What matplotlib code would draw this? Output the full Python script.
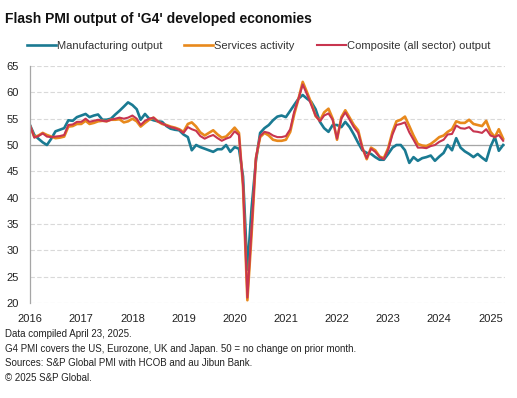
import numpy as np
import pandas as pd
import matplotlib
matplotlib.use('Agg')
import matplotlib.pyplot as plt
import matplotlib.dates as mdates

plt.rcParams['font.family'] = ['Liberation Sans', 'DejaVu Sans']

# monthly readings, Jan 2016 .. Apr 2025
months = pd.date_range('2016-01-01', periods=112, freq='MS')

manufacturing = [
    53.8, 51.9, 51.2, 50.5, 50.0, 51.2, 52.6, 52.9, 53.2, 54.7, 54.6, 55.3,
    55.6, 55.9, 55.3, 55.6, 55.8, 54.8, 54.8, 55.0, 55.8, 56.5, 57.3, 58.1,
    57.6, 56.8, 54.8, 55.9, 55.0, 54.7, 54.5, 54.4, 53.6, 53.1, 52.9, 52.8,
    52.0, 51.5, 49.0, 50.0, 49.6, 49.3, 49.0, 48.7, 49.2, 49.2, 50.0, 48.7,
    49.6, 49.3, 44.0, 26.3, 38.0, 47.0, 52.3, 53.2, 53.8, 54.7, 55.4, 55.6,
    55.3, 56.5, 57.6, 58.8, 59.5, 58.8, 58.2, 56.8, 54.4, 53.2, 52.5, 53.8,
    53.8, 53.4, 54.4, 53.4, 52.0, 50.4, 49.0, 48.5, 48.3, 47.7, 47.2, 47.2,
    48.3, 49.5, 50.0, 50.0, 49.0, 46.6, 47.7, 47.0, 47.5, 47.7, 48.0, 47.0,
    47.8, 48.5, 50.0, 49.0, 51.3, 49.5, 48.8, 48.3, 47.7, 48.3, 47.6, 47.0,
    49.7, 51.5, 48.9, 50.0,
]

services = [
    53.6, 51.5, 51.8, 52.3, 51.9, 51.6, 51.3, 51.4, 51.6, 53.5, 53.6, 54.0,
    54.0, 54.6, 54.0, 54.2, 54.5, 54.6, 54.5, 54.8, 54.8, 54.9, 54.3, 54.5,
    55.0, 54.5, 53.5, 54.2, 54.8, 55.2, 54.5, 54.0, 53.8, 53.5, 53.3, 53.0,
    52.5, 54.0, 54.3, 53.5, 52.4, 51.8, 52.3, 52.8, 52.0, 51.4, 51.6, 52.4,
    53.3, 52.3, 42.0, 20.5, 33.0, 47.5, 51.5, 52.3, 51.8, 51.0, 50.8, 50.8,
    51.0, 52.5, 55.8, 58.8, 62.0, 60.0, 58.0, 55.5, 54.6, 56.2, 56.9, 55.0,
    51.0, 55.3, 56.6, 55.2, 53.8, 52.8, 49.5, 47.3, 49.5, 49.0, 47.8, 47.5,
    49.4, 52.5, 54.5, 54.8, 55.4, 53.6, 51.8, 50.2, 49.9, 49.8, 50.2, 50.8,
    51.5, 51.8, 52.5, 53.0, 54.5, 54.2, 54.2, 54.8, 54.0, 53.8, 53.6, 54.6,
    52.5, 51.5, 53.0, 51.2,
]

composite = [
    53.8, 51.4, 51.7, 52.2, 51.6, 51.5, 51.6, 51.7, 51.9, 53.8, 53.9, 54.4,
    54.4, 55.0, 54.4, 54.6, 54.8, 54.6, 54.5, 54.8, 55.0, 55.2, 55.0, 55.2,
    55.6, 55.0, 53.8, 54.6, 55.0, 55.2, 54.5, 54.1, 53.7, 53.4, 53.2, 52.9,
    52.3, 53.4, 53.0, 52.7, 51.7, 51.2, 51.6, 51.9, 51.3, 50.8, 51.2, 51.5,
    52.6, 51.9, 42.5, 21.0, 34.0, 47.6, 51.7, 52.5, 52.3, 51.8, 51.5, 51.5,
    51.7, 53.0, 56.3, 58.8, 61.5, 59.6, 57.6, 55.6, 54.5, 55.6, 56.0, 54.8,
    51.2, 55.0, 56.2, 54.8, 53.4, 52.3, 49.4, 47.5, 49.3, 48.7, 47.7, 47.3,
    49.1, 52.0, 53.8, 54.0, 54.3, 52.4, 51.0, 49.5, 49.5, 49.4, 49.8, 50.0,
    50.6, 51.0, 52.0, 52.1, 53.7, 53.2, 53.1, 53.4, 52.6, 52.5, 52.3, 53.0,
    51.8, 51.5, 51.9, 50.8,
]

yticks = [20, 25, 30, 35, 40, 45, 50, 55, 60, 65]

fig = plt.figure(figsize=(5.17, 3.98), dpi=100)
ax = fig.add_axes([0.058, 0.239, 0.919, 0.595])

ax.plot(months, manufacturing, color='#1a7a92', lw=1.9, label='Manufacturing output')
ax.plot(months, services, color='#e8891c', lw=1.9, label='Services activity')
ax.plot(months, composite, color='#c8354f', lw=1.5, label='Composite (all sector) output')

ax.set_ylim(20, 65)
ax.set_yticks(yticks)
ax.set_xlim(months[0], pd.Timestamp('2025-04-15'))
ax.xaxis.set_major_locator(mdates.YearLocator())
ax.xaxis.set_major_formatter(mdates.DateFormatter('%Y'))

ax.grid(axis='y', color='#d9d9d9', lw=0.8, ls=(0, (4, 2)))
ax.axhline(50, color='#a6a6a6', lw=0.9, zorder=1)
ax.set_axisbelow(True)

for s in ['top', 'right', 'bottom']:
    ax.spines[s].set_visible(False)
ax.spines['left'].set_color('#a6a6a6')
ax.spines['left'].set_linewidth(0.9)
ax.tick_params(length=0, labelsize=8, colors='#222222')
ax.tick_params(axis='y', pad=8)
ax.tick_params(axis='x', pad=8)

fig.text(0.01, 0.953, "Flash PMI output of 'G4' developed economies",
         fontsize=10, fontweight='bold', va='center', color='#111111')

fig.legend(loc='center', bbox_to_anchor=(0.5, 0.884), ncol=3, frameon=False,
           fontsize=8, handlelength=2.6, handletextpad=0.1, columnspacing=2.0,
           labelcolor='#333333')

notes = [
    'Data compiled April 23, 2025.',
    'G4 PMI covers the US, Eurozone, UK and Japan. 50 = no change on prior month.',
    'Sources: S&P Global PMI with HCOB and au Jibun Bank.',
    '\u00a9 2025 S&P Global.',
]
for k, line in enumerate(notes):
    fig.text(0.01, 0.161 - k * 0.037, line, fontsize=7, va='center', color='#222222')

fig.savefig('out.png', dpi=100)
